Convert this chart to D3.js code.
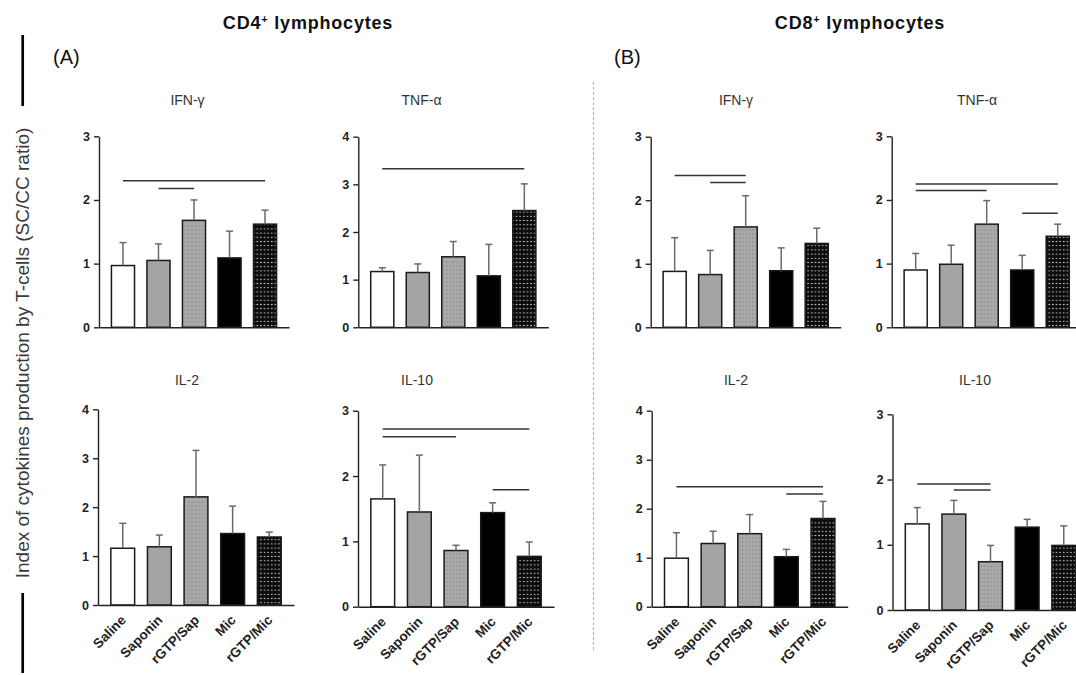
<!DOCTYPE html>
<html>
<head>
<meta charset="utf-8">
<script src="https://cdn.jsdelivr.net/npm/d3@7"></script>
<style>
  html, body { margin: 0; padding: 0; background: #fff; }
  svg { display: block; font-family: "Liberation Sans", Arial, sans-serif; }
</style>
</head>
<body>
<svg id="chart" width="1076" height="675"></svg>
<script>
// ---------- data ----------
const categories = ["Saline", "Saponin", "rGTP/Sap", "Mic", "rGTP/Mic"];

const cd4IfnMean = [0.97, 1.05, 1.68, 1.09, 1.62];
const cd4IfnSd   = [0.36, 0.26, 0.32, 0.42, 0.22];
const cd4IfnSig  = [[0, 4, 2.30], [1, 2, 2.18]];

const cd4TnfMean = [1.17, 1.15, 1.48, 1.08, 2.45];
const cd4TnfSd   = [0.08, 0.18, 0.32, 0.66, 0.56];
const cd4TnfSig  = [[0, 4, 3.33]];

const cd8IfnMean = [0.88, 0.83, 1.58, 0.89, 1.32];
const cd8IfnSd   = [0.53, 0.38, 0.49, 0.36, 0.24];
const cd8IfnSig  = [[0, 2, 2.39], [1, 2, 2.28]];

const cd8TnfMean = [0.90, 0.99, 1.62, 0.90, 1.43];
const cd8TnfSd   = [0.26, 0.30, 0.37, 0.23, 0.19];
const cd8TnfSig  = [[0, 4, 2.25], [0, 2, 2.15], [3, 4, 1.79]];

const cd4Il2Mean = [1.16, 1.19, 2.21, 1.46, 1.39];
const cd4Il2Sd   = [0.51, 0.24, 0.95, 0.56, 0.10];
const cd4Il2Sig  = [];

const cd4Il10Mean = [1.65, 1.45, 0.86, 1.44, 0.77];
const cd4Il10Sd   = [0.52, 0.87, 0.08, 0.15, 0.22];
const cd4Il10Sig  = [[0, 4, 2.72], [0, 2, 2.60], [3, 4, 1.79]];

const cd8Il2Mean = [0.99, 1.29, 1.49, 1.02, 1.80];
const cd8Il2Sd   = [0.52, 0.25, 0.39, 0.15, 0.35];
const cd8Il2Sig  = [[0, 4, 2.45], [3, 4, 2.30]];

const cd8Il10Mean = [1.32, 1.47, 0.74, 1.27, 0.99];
const cd8Il10Sd   = [0.25, 0.21, 0.25, 0.12, 0.30];
const cd8Il10Sig  = [[0, 2, 1.93], [1, 2, 1.84]];

const ticks3 = [0, 1, 2, 3];
const ticks4 = [0, 1, 2, 3, 4];

const panelTitles = ["IFN-γ", "TNF-α", "IFN-γ", "TNF-α", "IL-2", "IL-10", "IL-2", "IL-10"];
const groupHeaders = ["CD4", "CD8"];
const panelLetters = ["(A)", "(B)"];
const yAxisTitle = "Index of cytokines production by T-cells (SC/CC ratio)";

// ---------- layout ----------
const panels = [
  { title: panelTitles[0], mean: cd4IfnMean, sd: cd4IfnSd, sig: cd4IfnSig, ticks: ticks3, x: 99,    top: 136.3, zero: 327.3, w: 190, tx: 187.5, ty: 105, labels: false },
  { title: panelTitles[1], mean: cd4TnfMean, sd: cd4TnfSd, sig: cd4TnfSig, ticks: ticks4, x: 358.3, top: 136.7, zero: 327.3, w: 190, tx: 421.5, ty: 105, labels: false },
  { title: panelTitles[2], mean: cd8IfnMean, sd: cd8IfnSd, sig: cd8IfnSig, ticks: ticks3, x: 650.7, top: 136.7, zero: 327.3, w: 190, tx: 736,   ty: 105, labels: false },
  { title: panelTitles[3], mean: cd8TnfMean, sd: cd8TnfSd, sig: cd8TnfSig, ticks: ticks3, x: 891.7, top: 136.3, zero: 327.3, w: 190, tx: 977,   ty: 105, labels: false },
  { title: panelTitles[4], mean: cd4Il2Mean, sd: cd4Il2Sd, sig: cd4Il2Sig, ticks: ticks4, x: 98,    top: 409.3, zero: 605,   w: 196, tx: 187,   ty: 385, labels: true },
  { title: panelTitles[5], mean: cd4Il10Mean, sd: cd4Il10Sd, sig: cd4Il10Sig, ticks: ticks3, x: 358, top: 410.7, zero: 606.7, w: 196, tx: 417,   ty: 385, labels: true },
  { title: panelTitles[6], mean: cd8Il2Mean, sd: cd8Il2Sd, sig: cd8Il2Sig, ticks: ticks4, x: 651.7, top: 410.7, zero: 606.7, w: 196, tx: 736,   ty: 385, labels: true },
  { title: panelTitles[7], mean: cd8Il10Mean, sd: cd8Il10Sd, sig: cd8Il10Sig, ticks: ticks3, x: 892.5, top: 414.3, zero: 610, w: 196, tx: 975,   ty: 385, labels: true }
];

const svg = d3.select("#chart");
const defs = svg.append("defs");

// dotted gray pattern (rGTP/Sap)
const pSap = defs.append("pattern").attr("id", "dotGray")
  .attr("patternUnits", "userSpaceOnUse").attr("width", 3.4).attr("height", 4);
pSap.append("rect").attr("width", 3.4).attr("height", 4).attr("fill", "#a9a9a9");
pSap.append("rect").attr("x", 1).attr("y", 1.5).attr("width", 1.2).attr("height", 1).attr("fill", "#7c7c7c");

// dotted black pattern (rGTP/Mic)
const pMic = defs.append("pattern").attr("id", "dotBlack")
  .attr("patternUnits", "userSpaceOnUse").attr("width", 3.6).attr("height", 4.2);
pMic.append("rect").attr("width", 3.6).attr("height", 4.2).attr("fill", "#0c0c0c");
pMic.append("rect").attr("x", 1).attr("y", 1.6).attr("width", 1.5).attr("height", 1).attr("fill", "#d8d8d8");

const fills = ["#ffffff", "#a4a4a6", "url(#dotGray)", "#000000", "url(#dotBlack)"];

panels.forEach(p => {
  const yMax = p.ticks[p.ticks.length - 1];
  const y = d3.scaleLinear().domain([0, yMax]).range([p.zero, p.top]);
  const x = d3.scaleBand().domain(categories).range([p.x, p.x + p.w]).padding(0.35);
  const g = svg.append("g");

  // bars
  g.selectAll("rect.bar").data(categories).enter().append("rect")
    .attr("class", "bar")
    .attr("x", d => x(d))
    .attr("width", x.bandwidth())
    .attr("y", (d, i) => y(p.mean[i]))
    .attr("height", (d, i) => y(0) - y(p.mean[i]))
    .attr("fill", (d, i) => fills[i])
    .attr("stroke", "#1a1a1a")
    .attr("stroke-width", 1.5);

  // error bars (upper only)
  const eb = g.selectAll("g.err").data(categories).enter().append("g").attr("class", "err");
  eb.append("line")
    .attr("x1", d => x(d) + x.bandwidth() / 2)
    .attr("x2", d => x(d) + x.bandwidth() / 2)
    .attr("y1", (d, i) => y(p.mean[i]))
    .attr("y2", (d, i) => y(p.mean[i] + p.sd[i]))
    .attr("stroke", "#6a6a6a").attr("stroke-width", 1.5);
  eb.append("line")
    .attr("x1", d => x(d) + x.bandwidth() / 2 - 3.5)
    .attr("x2", d => x(d) + x.bandwidth() / 2 + 3.5)
    .attr("y1", (d, i) => y(p.mean[i] + p.sd[i]))
    .attr("y2", (d, i) => y(p.mean[i] + p.sd[i]))
    .attr("stroke", "#6a6a6a").attr("stroke-width", 1.5);

  // significance lines
  g.selectAll("line.sig").data(p.sig).enter().append("line")
    .attr("class", "sig")
    .attr("x1", d => x(categories[d[0]]) + x.bandwidth() / 2)
    .attr("x2", d => x(categories[d[1]]) + x.bandwidth() / 2)
    .attr("y1", d => y(d[2]))
    .attr("y2", d => y(d[2]))
    .attr("stroke", "#333").attr("stroke-width", 1.5);

  // y axis
  const ya = g.append("g").attr("transform", `translate(${p.x},0)`)
    .call(d3.axisLeft(y).tickValues(p.ticks).tickFormat(d3.format("d")).tickSize(5).tickPadding(4).tickSizeOuter(0));
  ya.select(".domain").attr("stroke", "#222").attr("stroke-width", 1.4);
  ya.selectAll(".tick line").attr("stroke", "#222").attr("stroke-width", 1.4);
  ya.selectAll(".tick text").attr("font-size", 12.5).attr("font-weight", "bold").attr("fill", "#222")
    .attr("font-family", "'Liberation Sans', Arial, sans-serif");

  // x axis (baseline only)
  const xa = g.append("g").attr("transform", `translate(0,${p.zero})`)
    .call(d3.axisBottom(x).tickSize(0).tickSizeOuter(0).tickFormat(""));
  xa.select(".domain").attr("stroke", "#222").attr("stroke-width", 1.4);
  xa.selectAll(".tick").remove();

  // category labels
  if (p.labels) {
    g.selectAll("text.cat").data(categories).enter().append("text")
      .attr("class", "cat")
      .attr("transform", d => `translate(${x(d) + x.bandwidth() / 2 + 4},${p.zero + 16}) rotate(-45)`)
      .attr("text-anchor", "end")
      .attr("font-size", 13.5).attr("font-weight", "bold").attr("fill", "#222")
      .text(d => d);
  }

  // panel title
  svg.append("text").attr("x", p.tx).attr("y", p.ty).attr("text-anchor", "middle")
    .attr("font-size", 14).attr("fill", "#333").text(p.title);
});

// group headers
[[308, groupHeaders[0]], [860, groupHeaders[1]]].forEach(([cx, lab]) => {
  const t = svg.append("text").attr("x", cx).attr("y", 29).attr("text-anchor", "middle")
    .attr("font-size", 18).attr("font-weight", "bold").attr("fill", "#111")
    .attr("letter-spacing", 0.8);
  t.append("tspan").text(lab);
  t.append("tspan").attr("font-size", 11).attr("dy", -6).text("+");
  t.append("tspan").attr("dy", 6).text(" lymphocytes");
});

// panel letters
svg.append("text").attr("x", 53).attr("y", 64).attr("font-size", 20).attr("fill", "#111").text(panelLetters[0]);
svg.append("text").attr("x", 614).attr("y", 64).attr("font-size", 20).attr("fill", "#111").text(panelLetters[1]);

// y-axis title
svg.append("text").attr("transform", "translate(29,353) rotate(-90)").attr("text-anchor", "middle")
  .attr("font-size", 19).attr("fill", "#3a3a3a").text(yAxisTitle);

// left decorative bars
svg.append("line").attr("x1", 22.7).attr("x2", 22.7).attr("y1", 35).attr("y2", 106).attr("stroke", "#000").attr("stroke-width", 2.7);
svg.append("line").attr("x1", 22.7).attr("x2", 22.7).attr("y1", 593).attr("y2", 673).attr("stroke", "#000").attr("stroke-width", 2.7);

// dotted separator
svg.append("line").attr("x1", 593.5).attr("x2", 593.5).attr("y1", 82).attr("y2", 652)
  .attr("stroke", "#b5b5b5").attr("stroke-width", 1).attr("stroke-dasharray", "3,2");
</script>
</body>
</html>
